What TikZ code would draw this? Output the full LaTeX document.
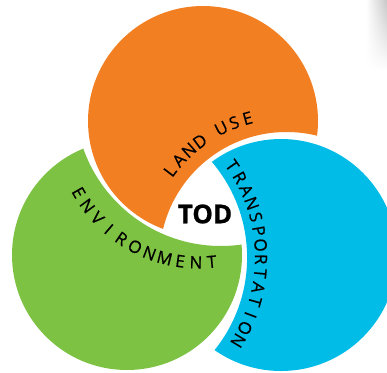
\documentclass[tikz,border=0pt]{standalone}
\usepackage{fontspec}
\setmainfont{Open Sans}
\usetikzlibrary{calc,fadings}

\definecolor{luOrange}{RGB}{243,127,35}
\definecolor{envGreen}{RGB}{125,194,66}
\definecolor{trBlue}{RGB}{0,188,231}

\newcommand\ltfont{\fontsize{17}{20}\selectfont\addfontfeature{FakeBold=0.6}}
\newlength\ltwd

% Letters set one by one on a circular arc.
% #1 name prefix, #2 centre x, #3 centre y, #4 baseline radius,
% #5 angle of first letter, #6 angle of last letter, #7 letters
\newcommand\arcword[7]{%
  \xdef\ltsum{0}\xdef\ltn{0}%
  \foreach \ltch [count=\k] in {#7}{%
    \settowidth\ltwd{\ltfont\ltch}%
    \pgfmathsetmacro\lttmp{\ltsum+\ltwd}\xdef\ltsum{\lttmp}%
    \xdef\ltn{\k}%
    \ifnum\k=1 \xdef\ltfirst{\the\ltwd}\fi
    \xdef\ltlast{\the\ltwd}%
  }%
  \pgfmathsetmacro\ltlen{abs(#6-#5)*pi/180*#4}%
  \pgfmathsetmacro\lttrack{(\ltlen-(\ltsum-\ltfirst/2-\ltlast/2))/(\ltn-1)}%
  \pgfmathsetmacro\ltdir{sign(#6-#5)}%
  \xdef\ltrun{0}%
  \foreach \ltch [count=\k] in {#7}{%
    \settowidth\ltwd{\ltfont\ltch}%
    \pgfmathsetmacro\lts{\ltrun+\ltwd/2-\ltfirst/2}%
    \pgfmathsetmacro\ltang{#5+\ltdir*\lts/#4*180/pi}%
    \pgfmathsetmacro\ltrot{\ltang+\ltdir*90}%
    \node[arcletter, rotate=\ltrot] (#1-\k) at ($(#2,#3)+(\ltang:#4)$) {\ltch};
    \pgfmathsetmacro\lttmp{\ltrun+\ltwd+\lttrack}\xdef\ltrun{\lttmp}%
  }%
}

% narrow word space between two letters on an arc
\newcommand\wordgap{\kern-3pt}

% everything outside a circle, for cutting a disc (circle ccw, frame cw)
\tikzset{outside/.style={insert path={(-50,50) -- (450,50) -- (450,-450) -- (-50,-450) -- cycle}}}

\begin{document}
\begin{tikzpicture}[x=1pt, y=1pt,
  arcletter/.style={inner sep=0pt, anchor=base, font=\ltfont, text=black},
  hub/.style={inner sep=0pt, font=\fontsize{26}{30}\selectfont\bfseries\addfontfeature{FakeBold=0.8}, text=black}]
  \useasboundingbox (0,-372) rectangle (387,0);
  \fill[white] (0,-372) rectangle (387,0);

  % soft grey shadow in the upper right corner
  \shade[left color=white, right color=black!22, path fading=south]
    (366,0) rectangle (387,-70);

  % land use: orange disc minus the ring around transportation
  \begin{scope}
    \clip (286.5,-259) circle (127) [outside];
    \fill[luOrange] (203,-121) circle (115);
  \end{scope}

  % environment: green disc minus the ring around land use
  \begin{scope}
    \clip (221,-100) circle (146) [outside];
    \fill[envGreen] (127,-255) circle (115);
  \end{scope}

  % transportation: blue disc minus the ring around environment
  \begin{scope}
    \clip (99.5,-257.6) circle (147.6) [outside];
    \fill[trBlue] (281,-255) circle (116);
  \end{scope}

  \node[hub] (tod) at (205,-214) {TOD};

  \arcword{lu}{286.5}{-259}{140}{142.9}{105.5}{L,A,N,D,\wordgap,U,S,E}
  \arcword{env}{199}{-124}{144.5}{209.7}{275.3}{E,N,V,I,R,O,N,M,E,N,T}
  \arcword{tr}{99.5}{-257.6}{155.5}{34.75}{-30.9}{T,R,A,N,S,P,O,R,T,A,T,I,O,N}
\end{tikzpicture}
\end{document}
